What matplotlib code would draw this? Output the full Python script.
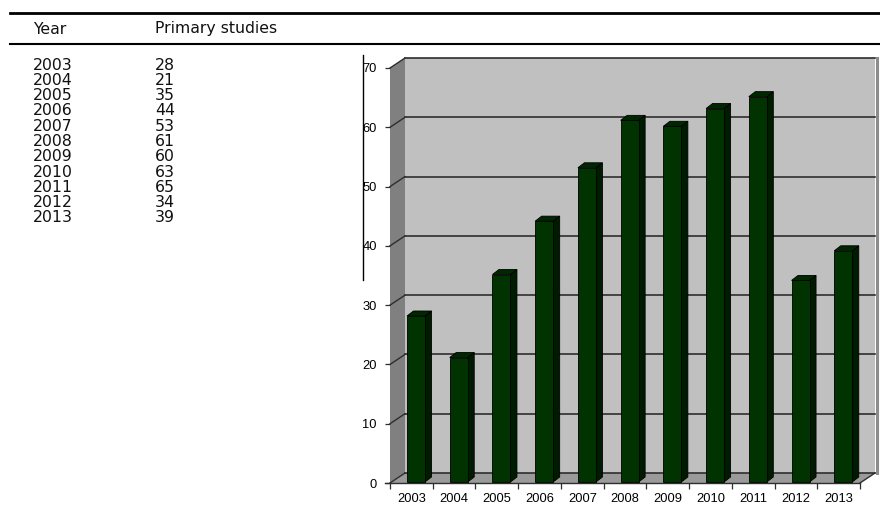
import numpy as np
import matplotlib
matplotlib.use("Agg")
import matplotlib.pyplot as plt
from matplotlib.patches import Polygon, Rectangle
from matplotlib.lines import Line2D

# table / chart data
years = ["2003", "2004", "2005", "2006", "2007", "2008", "2009", "2010", "2011", "2012", "2013"]
studies = [28, 21, 35, 44, 53, 61, 60, 63, 65, 34, 39]
y_ticks = [0, 10, 20, 30, 40, 50, 60, 70]
headers = ["Year", "Primary studies"]

W, H = 880, 507
fig = plt.figure(figsize=(W / 100, H / 100), dpi=100)


def fx(px):
    return px / W


def fy(py):
    return 1 - py / H


# ---- table on the left ----
fig.add_artist(Line2D([fx(10), fx(880)], [fy(13), fy(13)], color="black", lw=2.0))
fig.add_artist(Line2D([fx(10), fx(880)], [fy(43.5), fy(43.5)], color="black", lw=1.5))
tfont = dict(family="DejaVu Sans", fontsize=11.3, va="center", ha="left", color="#111111")
fig.text(fx(33), fy(29), headers[0], **tfont)
fig.text(fx(155), fy(29), headers[1], **tfont)
for k, (yr, n) in enumerate(zip(years, studies)):
    fig.text(fx(33), fy(65 + 15.3 * k), yr, **tfont)
    fig.text(fx(155), fy(65 + 15.3 * k), str(n), **tfont)

# stray border line left of the chart
fig.add_artist(Line2D([fx(363), fx(363)], [fy(55), fy(280)], color="black", lw=1.0))

# ---- 3D-looking bar chart ----
ax = fig.add_axes([fx(390), fy(483), (860 - 390) / W, (483 - 68) / H])
ax.set_xlim(-0.5, len(years) - 0.5)
ax.set_ylim(0, 70)
for s in ax.spines.values():
    s.set_visible(False)
ax.patch.set_visible(False)

ux = (len(years)) / 470.0   # data units per pixel in x
uy = 70 / 415.0              # data units per pixel in y
DX, DY = 15 * ux, 10 * uy    # depth of the walls
x0, x1 = -0.5, len(years) - 0.5

wall = "#c0c0c0"
side = "#808080"
floor = "#9a9a9a"
grid = "#2e2e2e"

ax.add_patch(Rectangle((x0 + DX, DY), x1 - x0, 70, facecolor=wall, edgecolor="none",
                       zorder=1, clip_on=False))
ax.add_patch(Polygon([(x0, 0), (x0 + DX, DY), (x0 + DX, 70 + DY), (x0, 70)],
                     facecolor=side, edgecolor="none", zorder=1, clip_on=False))
ax.add_patch(Polygon([(x0, 0), (x1, 0), (x1 + DX, DY), (x0 + DX, DY)],
                     facecolor=floor, edgecolor="none", zorder=1, clip_on=False))
for v in y_ticks:
    ax.plot([x0 + DX, x1 + DX], [v + DY, v + DY], color=grid, lw=1.2, zorder=2, clip_on=False)
    ax.plot([x0, x0 + DX], [v, v + DY], color=grid, lw=1.0, zorder=2, clip_on=False)
ax.plot([x1 + DX + 2 * ux, x1 + DX + 2 * ux], [DY, 70 + DY], color="#8c8c8c", lw=2.2,
        zorder=2, clip_on=False)
ax.plot([x0 - 5 * ux, x1], [0, 0], color=grid, lw=1.0, zorder=2, clip_on=False)
ax.plot([x1, x1 + DX], [0, DY], color=grid, lw=1.0, zorder=2, clip_on=False)

# bars
xs = np.arange(len(years))
bw = 18 * ux
left = xs - 0.5 + 17 * ux
b0 = 1 * uy
bdx, bdy = 6.5 * ux, 5 * uy
front = "#003300"
ax.bar(left, studies, width=bw, bottom=b0, align="edge", color=front,
       edgecolor="black", lw=0.6, zorder=4, clip_on=False)
for l, v in zip(left, studies):
    r = l + bw
    t = b0 + v
    ax.add_patch(Polygon([(r, b0), (r + bdx, b0 + bdy), (r + bdx, t + bdy), (r, t)],
                         facecolor="#001c00", edgecolor="black", lw=0.6, zorder=3,
                         clip_on=False))
    ax.add_patch(Polygon([(l, t), (r, t), (r + bdx, t + bdy), (l + bdx, t + bdy)],
                         facecolor="#002800", edgecolor="black", lw=0.6, zorder=3,
                         clip_on=False))

# ticks
ax.set_yticks(y_ticks)
ax.set_yticklabels([str(v) for v in y_ticks], family="Liberation Sans", fontsize=9.3)
ax.tick_params(axis="y", length=3.5, width=0.9, pad=6, color=grid)
ax.set_xticks(np.arange(len(years) + 1) - 0.5)
ax.set_xticklabels([])
ax.set_xticks(xs, minor=True)
ax.set_xticklabels(years, minor=True, family="Liberation Sans", fontsize=9.3)
ax.tick_params(axis="x", which="major", length=4.5, width=0.9, color=grid, direction="out")
ax.tick_params(axis="x", which="minor", length=0, pad=7)

fig.savefig("out.png", dpi=100)
